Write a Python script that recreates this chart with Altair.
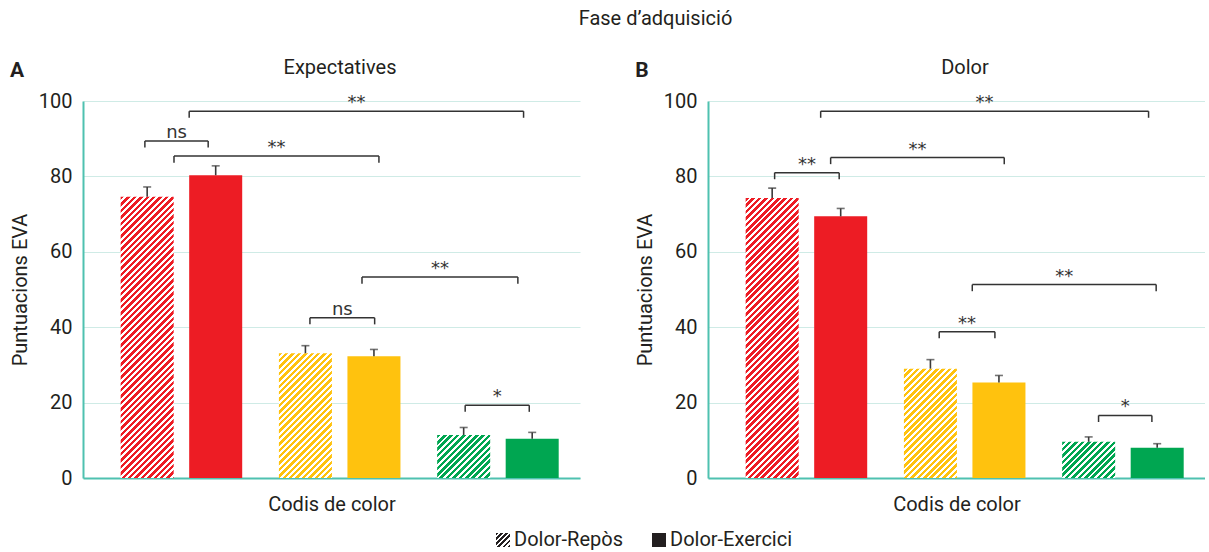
import altair as alt

# ---- data -----------------------------------------------------------------
color_codes = ["Vermell", "Groc", "Verd"]
conditions = ["Dolor-Repòs", "Dolor-Exercici"]
code_colors = ["#ED1C24", "#FFC20E", "#00A651"]

# VAS scores, ordered code by code: (Repòs, Exercici) for each colour code
expect_mean = [74.6, 80.3, 33.1, 32.3, 11.4, 10.4]
expect_sem = [2.6, 2.5, 2.0, 1.8, 2.0, 1.7]
pain_mean = [74.3, 69.4, 29.0, 25.3, 9.6, 8.0]
pain_sem = [2.6, 2.1, 2.4, 1.9, 1.3, 1.1]

# significance brackets (start, end in colour-code units; height in VAS points)
expect_br_from = [-0.231, -0.047, 0.049, 0.812, 1.141, 1.793]
expect_br_to = [0.169, 1.248, 2.162, 1.221, 2.126, 2.198]
expect_br_y = [89.4, 85.4, 97.3, 42.5, 53.3, 19.3]
expect_br_label = ["ns", "**", "**", "ns", "**", "*"]

pain_br_from = [-0.201, 0.153, 0.090, 0.839, 1.048, 1.846]
pain_br_to = [0.207, 1.250, 2.162, 1.191, 2.210, 2.183]
pain_br_y = [81.0, 85.0, 97.3, 38.8, 51.3, 16.6]
pain_br_label = ["**", "**", "**", "**", "**", "*"]

y_ticks = [0, 20, 40, 60, 80, 100]

# ---- layout / style ---------------------------------------------------------
W, H = 497, 377
GROUP_PX = 158.25            # distance between colour-code groups
BAR_STEP = 0.433             # distance between the two bars of a group
BAR_HALF = 0.1675            # half bar width
X_DOMAIN = [-0.622, -0.622 + W / GROUP_PX]
LEG = 1.75                   # bracket leg length
TEAL = "#4FC1B0"
GRID = "#CFEBE6"
INK = "#231F20"
FONT = "Roboto"


def hatch(color, w, h, period=6.4, frac=0.54):
    """Diagonal stripe fill built from a hard-stop linear gradient."""
    span = w + h
    d = w * w + h * h
    stops = []
    k = 0
    while k * period < span:
        a = k * period / span
        m = min((k + frac) * period / span, 1.0)
        b = min((k + 1) * period / span, 1.0)
        stops += [
            {"offset": round(a, 5), "color": color},
            {"offset": round(m, 5), "color": color},
            {"offset": round(m, 5), "color": "#ffffff"},
            {"offset": round(b, 5), "color": "#ffffff"},
        ]
        k += 1
    return {"gradient": "linear", "x1": 0, "y1": 0,
            "x2": span * w / d, "y2": span * h / d, "stops": stops}


def x_enc(field):
    return alt.X(field, type="quantitative",
                 scale=alt.Scale(domain=X_DOMAIN, nice=False, zero=False),
                 axis=alt.Axis(title="Codis de color", labels=False, ticks=False,
                               grid=False, domainColor=TEAL, domainWidth=2,
                               titlePadding=16))


def y_enc(field):
    return alt.Y(field, type="quantitative",
                 scale=alt.Scale(domain=[0, 100], nice=False),
                 axis=alt.Axis(title="Puntuacions EVA", values=y_ticks, ticks=False,
                               grid=True, gridColor=GRID, gridWidth=1,
                               domainColor=TEAL, domainWidth=2,
                               labelPadding=11, titlePadding=8))


def panel(title, letter, means, sems, br_from, br_to, br_y, br_label):
    bar_w_px = 2 * BAR_HALF * GROUP_PX
    rows = []
    for gi, code in enumerate(color_codes):
        for si, cond in enumerate(conditions):
            i = gi * 2 + si
            c = gi + (si - 0.5) * BAR_STEP
            paint = (hatch(code_colors[gi], bar_w_px, means[i] * H / 100)
                     if si == 0 else code_colors[gi])
            rows.append({"code": code, "cond": cond, "c": c,
                         "left": c - BAR_HALF, "right": c + BAR_HALF,
                         "mean": means[i], "upper": means[i] + sems[i],
                         "paint": paint})
    bars_data = alt.Data(values=rows)

    bars = alt.Chart(bars_data).mark_bar().encode(
        x=x_enc("left"), x2="right", y=y_enc("mean"), y2=alt.datum(0),
        fill=alt.Fill("paint:N", scale=None))
    err = alt.Chart(bars_data).mark_rule(color="#3a3a3a", strokeWidth=1.6).encode(
        x=x_enc("c"), y=y_enc("mean"), y2="upper")
    caps = alt.Chart(bars_data).mark_tick(
        orient="horizontal", size=8, thickness=1.6, color="#3a3a3a").encode(
        x=x_enc("c"), y=y_enc("upper"))

    br_rows = [{"a": a, "b": b, "y": y, "low": y - LEG, "mid": (a + b) / 2, "label": t}
               for a, b, y, t in zip(br_from, br_to, br_y, br_label)]
    br_data = alt.Data(values=br_rows)
    leg_rows = []
    for r in br_rows:
        leg_rows.append({"x": r["a"], "y": r["y"], "low": r["low"]})
        leg_rows.append({"x": r["b"], "y": r["y"], "low": r["low"]})

    line_style = dict(color="#333333", strokeWidth=1.5)
    br_top = alt.Chart(br_data).mark_rule(**line_style).encode(
        x=x_enc("a"), x2="b", y=y_enc("y"))
    br_legs = alt.Chart(alt.Data(values=leg_rows)).mark_rule(**line_style).encode(
        x=x_enc("x"), y=y_enc("y"), y2="low")
    br_text = alt.Chart(br_data).mark_text(
        font="DejaVu Sans", fontSize=18, color="#333333", baseline="alphabetic", dy=-3
    ).encode(x=x_enc("mid"), y=y_enc("y"), text="label:N")

    heads = alt.Data(values=[{"t": letter, "title": title}])
    tag = alt.Chart(heads).mark_text(
        font=FONT, fontSize=21, fontWeight="bold", color=INK,
        align="center", baseline="middle"
    ).encode(x=alt.value(-66), y=alt.value(-30), text="t:N")
    head = alt.Chart(heads).mark_text(
        font=FONT, fontSize=20, color=INK, align="center", baseline="middle"
    ).encode(x=alt.value(257), y=alt.value(-33), text="title:N")

    return alt.layer(bars, err, caps, br_top, br_legs, br_text, tag, head).properties(
        width=W, height=H)


panel_a = panel("Expectatives", "A", expect_mean, expect_sem,
                expect_br_from, expect_br_to, expect_br_y, expect_br_label)
panel_b = panel("Dolor", "B", pain_mean, pain_sem,
                pain_br_from, pain_br_to, pain_br_y, pain_br_label)

# ---- legend ----------------------------------------------------------------
legend_rows = [
    {"cond": conditions[0], "paint": hatch(INK, 14, 14, period=5.0, frac=0.55)},
    {"cond": conditions[1], "paint": INK},
]
leg_x = alt.X("cond:N", scale=alt.Scale(type="point", domain=conditions,
                                        range=[420, 576], padding=0), axis=None)
legend_sw = alt.Chart(alt.Data(values=legend_rows)).mark_square(
    size=196, opacity=1).encode(x=leg_x, y=alt.value(7),
                                fill=alt.Fill("paint:N", scale=None))
legend_tx = alt.Chart(alt.Data(values=legend_rows)).mark_text(
    font=FONT, fontSize=20, color=INK, align="left", baseline="middle", xOffset=11
).encode(x=leg_x, y=alt.value(7), text="cond:N")
legend = alt.layer(legend_sw, legend_tx).properties(width=740, height=14)

chart = alt.vconcat(
    alt.hconcat(panel_a, panel_b, spacing=55),
    legend,
    spacing=16,
    title=alt.Title("Fase d’adquisició", fontSize=20, fontWeight="normal",
                    font=FONT, color=INK, anchor="middle", dx=48, offset=29),
).configure_axis(
    labelFont=FONT, titleFont=FONT, labelFontSize=20, titleFontSize=20,
    labelColor=INK, titleColor=INK, titleFontWeight="normal",
).configure_view(stroke=None).properties(
    background="white",
    padding={"left": 9, "top": 9, "right": 0, "bottom": 0},
)

chart.save("out.html", embed_options={"renderer": "svg", "actions": False})
